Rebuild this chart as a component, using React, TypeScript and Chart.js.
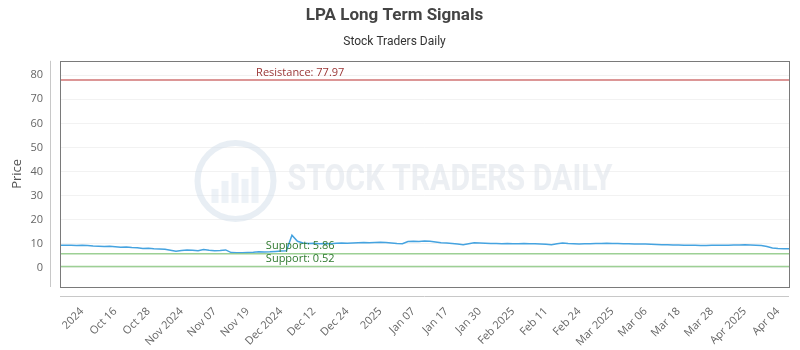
import React, { useEffect, useRef } from 'react';
import { Chart, registerables } from 'chart.js';

Chart.register(...registerables);

const prices: number[] = [
  9.4, 9.3, 9.3, 9.2, 9.3, 9.2, 9.0, 8.9, 8.8, 8.9, 8.7,
  8.5, 8.6, 8.4, 8.3, 8.0, 8.1, 7.9, 7.8, 7.7, 7.3,
  6.9, 7.2, 7.4, 7.3, 7.1, 7.6, 7.3, 7.1, 7.2, 7.4,
  6.3, 6.2, 6.2, 6.3, 6.4, 6.6, 6.5, 6.6, 6.8, 7.0,
  7.1, 13.5, 11.0, 10.3, 10.1, 10.2, 10.0, 10.1, 10.0, 10.2,
  10.3, 10.2, 10.3, 10.4, 10.5, 10.4, 10.5, 10.6, 10.5, 10.3,
  10.1, 10.0, 10.9, 11.0, 10.9, 11.1, 11.0, 10.7, 10.4, 10.3,
  10.1, 9.9, 9.6, 10.0, 10.4, 10.3, 10.2, 10.1, 10.1, 10.0,
  10.1, 10.0, 10.0, 10.1, 10.0, 10.0, 9.9, 9.8, 9.6, 10.0,
  10.3, 10.1, 10.0, 9.9, 10.0, 10.0, 10.1, 10.1, 10.2, 10.1,
  10.1, 10.0, 10.0, 9.9, 9.9, 9.9, 9.8, 9.7, 9.6, 9.6,
  9.5, 9.5, 9.4, 9.3, 9.3, 9.2, 9.2, 9.3, 9.3, 9.4,
  9.4, 9.5, 9.5, 9.6, 9.5, 9.4, 9.2, 8.8, 8.2, 8.0, 7.9, 7.9,
];

const tickIndices: number[] = [4, 10, 16, 22, 28, 34, 40, 46, 52, 58, 64, 70, 76, 82, 88, 94, 100, 106, 112, 118, 124, 130];
const tickLabels: string[] = [
  '2024', 'Oct 16', 'Oct 28', 'Nov 2024', 'Nov 07', 'Nov 19', 'Dec 2024', 'Dec 12', 'Dec 24', '2025',
  'Jan 07', 'Jan 17', 'Jan 30', 'Feb 2025', 'Feb 11', 'Feb 24', 'Mar 2025', 'Mar 06', 'Mar 18', 'Mar 28',
  'Apr 2025', 'Apr 04',
];
const yTicks: number[] = [0, 10, 20, 30, 40, 50, 60, 70, 80];
const resistanceLevels: number[] = [77.97];
const supportLevels: number[] = [5.86, 0.52];
const levelLabelIndex = 43.5;

const FONT = "'Open Sans', 'DejaVu Sans', sans-serif";
const TITLE_FONT = "'Liberation Sans Narrow', 'Roboto', sans-serif";

const decorPlugin = {
  id: 'decor',
  beforeDatasetsDraw(chart: any) {
    const { ctx, chartArea } = chart;
    const cx = (chartArea.left + chartArea.right) / 2;
    const cy = (chartArea.top + chartArea.bottom) / 2;
    ctx.save();
    // watermark logo
    const lx = cx - 189;
    const ly = cy + 7;
    ctx.strokeStyle = 'rgba(210,222,234,0.5)';
    ctx.lineWidth = 6;
    ctx.beginPath();
    ctx.arc(lx, ly, 38, 0, Math.PI * 2);
    ctx.stroke();
    ctx.fillStyle = 'rgba(210,222,234,0.4)';
    const bars = [14, 22, 30, 24, 36];
    bars.forEach((h, i) => {
      ctx.fillRect(lx - 24 + i * 10, ly + 22 - h, 7, h);
    });
    // watermark text
    ctx.fillStyle = 'rgba(218,224,232,0.5)';
    ctx.font = `bold 36px ${TITLE_FONT}`;
    ctx.textBaseline = 'middle';
    ctx.textAlign = 'left';
    const txt = 'STOCK TRADERS DAILY';
    const w = ctx.measureText(txt).width;
    const target = 325;
    ctx.translate(cx - 137, ly);
    ctx.scale(target / w, 1);
    ctx.fillText(txt, 0, 0);
    ctx.restore();
  },
  afterDatasetsDraw(chart: any) {
    const { ctx, chartArea, scales } = chart;
    const x = scales.x;
    const y = scales.y;
    ctx.save();
    const lx = x.getPixelForValue(levelLabelIndex);
    ctx.font = `11px ${FONT}`;
    ctx.textAlign = 'center';
    ctx.textBaseline = 'bottom';
    resistanceLevels.forEach((v) => {
      const py = y.getPixelForValue(v);
      ctx.strokeStyle = 'rgba(200,90,90,0.85)';
      ctx.lineWidth = 1.5;
      ctx.beginPath();
      ctx.moveTo(chartArea.left, py);
      ctx.lineTo(chartArea.right, py);
      ctx.stroke();
      ctx.fillStyle = '#9a3535';
      ctx.fillText(`Resistance: ${v.toFixed(2)}`, lx, py - 2);
    });
    supportLevels.forEach((v) => {
      const py = y.getPixelForValue(v);
      ctx.strokeStyle = 'rgba(140,200,130,0.85)';
      ctx.lineWidth = 1.5;
      ctx.beginPath();
      ctx.moveTo(chartArea.left, py);
      ctx.lineTo(chartArea.right, py);
      ctx.stroke();
      ctx.fillStyle = '#2f7a2f';
      ctx.fillText(`Support: ${v.toFixed(2)}`, lx, py - 2);
    });
    // plot frame
    ctx.strokeStyle = '#7a7a7a';
    ctx.lineWidth = 1;
    ctx.strokeRect(
      Math.round(chartArea.left) + 0.5,
      Math.round(chartArea.top) + 0.5,
      Math.round(chartArea.right - chartArea.left),
      Math.round(chartArea.bottom - chartArea.top)
    );
    // detached axis lines
    ctx.strokeStyle = '#c8c8c8';
    ctx.beginPath();
    ctx.moveTo(Math.round(chartArea.left) - 9.5, chartArea.top);
    ctx.lineTo(Math.round(chartArea.left) - 9.5, chartArea.bottom);
    ctx.stroke();
    ctx.beginPath();
    ctx.moveTo(chartArea.left, Math.round(chartArea.bottom) + 9.5);
    ctx.lineTo(chartArea.right, Math.round(chartArea.bottom) + 9.5);
    ctx.stroke();
    ctx.restore();
  },
};

export default function App() {
  const canvasRef = useRef<HTMLCanvasElement | null>(null);

  useEffect(() => {
    document.body.style.margin = '0';
    const canvas = canvasRef.current;
    if (!canvas) return;
    const chart = new Chart(canvas, {
      type: 'line',
      data: {
        datasets: [
          {
            label: 'LPA',
            data: prices.map((p, i) => ({ x: i, y: p })),
            borderColor: '#45a3e0',
            borderWidth: 1.5,
            pointRadius: 0,
            tension: 0,
            fill: false,
          },
        ],
      },
      options: {
        animation: false,
        responsive: false,
        maintainAspectRatio: false,
        layout: { padding: { top: 0, right: 11, bottom: 0, left: 0 } },
        plugins: {
          legend: { display: false },
          tooltip: { enabled: false },
          title: {
            display: true,
            text: 'LPA Long Term Signals',
            color: '#444',
            font: { family: TITLE_FONT, size: 17, weight: 'bold' },
            padding: { top: 6, bottom: 4 },
          },
          subtitle: {
            display: true,
            text: 'Stock Traders Daily',
            color: '#333',
            font: { family: TITLE_FONT, size: 12 },
            padding: { top: 4, bottom: 12 },
          },
        },
        scales: {
          x: {
            type: 'linear',
            min: 0,
            max: prices.length - 1,
            grid: { display: false, drawTicks: false },
            border: { display: false },
            afterBuildTicks: (scale: any) => {
              scale.ticks = tickIndices.map((v) => ({ value: v }));
            },
            afterFit: (scale: any) => {
              scale.height = 63;
              scale.paddingLeft = 0;
              scale.paddingRight = 0;
            },
            ticks: {
              autoSkip: false,
              minRotation: 45,
              maxRotation: 45,
              padding: 18,
              color: '#666',
              font: { family: FONT, size: 11 },
              callback: (_v: any, i: number) => tickLabels[i],
            },
          },
          y: {
            min: -8,
            max: 86,
            grid: { color: 'rgba(0,0,0,0.05)', drawTicks: false },
            border: { display: false },
            afterBuildTicks: (scale: any) => {
              scale.ticks = yTicks.map((v) => ({ value: v }));
            },
            afterFit: (scale: any) => {
              scale.width = 60;
              scale.paddingTop = 0;
              scale.paddingBottom = 0;
            },
            title: {
              display: true,
              text: 'Price',
              color: '#555',
              font: { family: FONT, size: 13 },
              padding: { top: 9, bottom: 0 },
            },
            ticks: {
              padding: 17,
              color: '#666',
              font: { family: FONT, size: 11 },
            },
          },
        },
      },
      plugins: [decorPlugin],
    });
    return () => chart.destroy();
  }, []);

  return (
    <div style={{ width: 800, height: 350 }}>
      <canvas ref={canvasRef} width={800} height={350} style={{ display: 'block' }} />
    </div>
  );
}
